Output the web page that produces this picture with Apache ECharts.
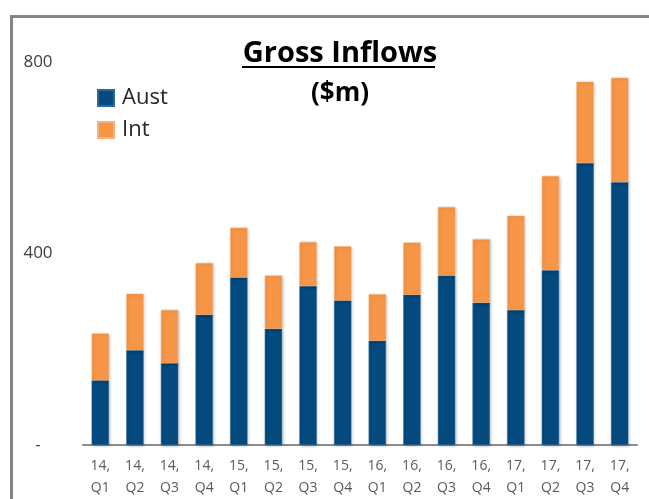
<!DOCTYPE html>
<html>
<head>
<meta charset="utf-8">
<script src="https://cdn.jsdelivr.net/npm/echarts@6/dist/echarts.min.js"></script>
<style>
  html, body { margin: 0; padding: 0; background: #ffffff; }
  #chart { width: 649px; height: 499px; }
</style>
</head>
<body>
<div id="chart"></div>
<script>
  // quarters 2014 Q1 .. 2017 Q4
  var quarters = ['14,\nQ1', '14,\nQ2', '14,\nQ3', '14,\nQ4',
                  '15,\nQ1', '15,\nQ2', '15,\nQ3', '15,\nQ4',
                  '16,\nQ1', '16,\nQ2', '16,\nQ3', '16,\nQ4',
                  '17,\nQ1', '17,\nQ2', '17,\nQ3', '17,\nQ4'];
  var aust = [135, 198, 171, 272, 350, 243, 332, 302, 218, 314, 354, 297, 282, 365, 589, 549];
  var intl = [98, 118, 111, 108, 104, 111, 92, 113, 97, 109, 143, 133, 197, 197, 170, 218];
  var yTicks = [0, 400, 800];

  var font = '"Open Sans", "Noto Sans", sans-serif';
  var chart = echarts.init(document.getElementById('chart'), null, { renderer: 'canvas' });

  var option = {
    backgroundColor: '#ffffff',
    animation: false,
    title: {
      text: 'Gross Inflows',
      subtext: '($m)',
      left: 335,
      textAlign: 'center',
      top: 34,
      itemGap: 13,
      textStyle: { fontFamily: font, fontSize: 29, fontWeight: 'bold', color: '#000' },
      subtextStyle: { fontFamily: font, fontSize: 26, fontWeight: 'bold', color: '#000' }
    },
    legend: {
      orient: 'vertical',
      left: 92,
      top: 82,
      itemWidth: 16,
      itemHeight: 16,
      itemGap: 10,
      icon: 'rect',
      data: ['Aust', 'Int'],
      textStyle: { fontFamily: font, fontSize: 22, color: '#262626', lineHeight: 16, padding: [0, 0, 0, 3] }
    },
    grid: { left: 83, right: 12, top: 62, bottom: 51 },
    xAxis: {
      type: 'category',
      data: quarters,
      axisLine: { lineStyle: { color: '#8c8c8c', width: 2 } },
      axisTick: { show: false },
      axisLabel: {
        fontFamily: font, fontSize: 14, color: '#595959', lineHeight: 22, margin: 10
      }
    },
    yAxis: {
      type: 'value',
      min: yTicks[0],
      max: yTicks[yTicks.length - 1],
      interval: yTicks[1] - yTicks[0],
      splitLine: { show: false },
      axisLine: { show: false },
      axisTick: { show: false },
      axisLabel: {
        fontFamily: font, fontSize: 17, color: '#404040', align: 'center', margin: 45,
        formatter: function (v) { return v === 0 ? '-' : String(v); }
      }
    },
    series: [
      {
        name: 'Aust', type: 'bar', stack: 'total', data: aust, barWidth: '50%',
        itemStyle: { color: '#044a7e', borderColor: '#2f6a96', borderWidth: 0.5,
                     shadowBlur: 3, shadowColor: 'rgba(0,0,0,0.25)', shadowOffsetX: 1, shadowOffsetY: 1 }
      },
      {
        name: 'Int', type: 'bar', stack: 'total', data: intl, barWidth: '50%',
        itemStyle: { color: '#f79646', borderColor: '#f9b07a', borderWidth: 0.5,
                     shadowBlur: 3, shadowColor: 'rgba(0,0,0,0.25)', shadowOffsetX: 1, shadowOffsetY: 1 }
      }
    ],
    graphic: [
      // frame round the chart
      { type: 'rect', silent: true, z: -1,
        shape: { x: 11.5, y: 16.5, width: 800, height: 600 },
        style: { fill: 'none', stroke: '#858585', lineWidth: 3 } },
      // underline below the title
      { type: 'line', silent: true,
        shape: { x1: 242, y1: 67, x2: 435, y2: 67 },
        style: { stroke: '#000', lineWidth: 2 } }
    ]
  };

  chart.setOption(option);
</script>
</body>
</html>
